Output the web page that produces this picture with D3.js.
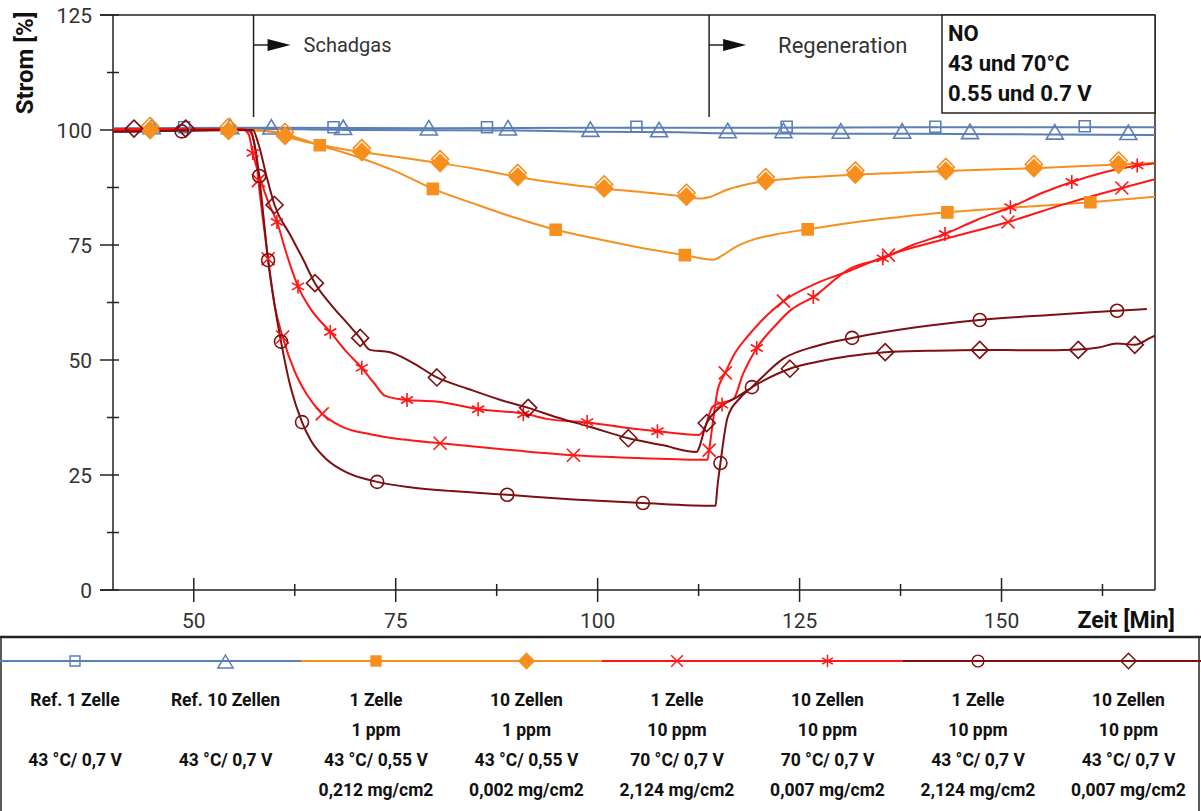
<!DOCTYPE html>
<html>
<head>
<meta charset="utf-8">
<script src="https://cdn.jsdelivr.net/npm/d3@7"></script>
<style>
  body { margin: 0; background: #fff; }
  svg { display: block; font-family: Roboto, "Liberation Sans", sans-serif; }
</style>
</head>
<body>
<div id="chart"></div>
<script>
// --- data: [Zeit in Min, Strom in %] ---
const ref1Line = [[40,100.4],[60,100.5],[80,100.4],[100,100.5],[120,100.5],[140,100.6],[169,100.6]];
const ref1Marks = [[48.8,100.6],[67.3,100.6],[86.3,100.6],[104.8,100.7],[123.4,100.7],[141.8,100.7],[160.3,100.8]];

const ref10Line = [[40,100.2],[55,100.3],[70,100],[90,99.9],[100,99.6],[110,99.5],[115,99.3],[130,99.2],[150,99.1],[169,98.9]];
const ref10Marks = [[44.8,100.2],[54.5,100.2],[59.6,100.1],[68.5,100],[79.1,99.9],[88.9,99.9],[99.1,99.6],[107.6,99.5],[116.1,99.3],
  [123,99.3],[130.1,99.2],[137.7,99.2],[146.1,99.1],[156.6,99],[165.7,98.9]];

const o1Line = [[40,100],[57,100],[59,99.8],[61,99.2],[63,98.2],[65.6,96.7],[70,94.3],[75,91],[79.6,87.2],[85,83.8],[90,80.8],
  [94.8,78.3],[100,76.3],[105,74.5],[110.8,72.8],[114.3,71.8],[115.5,72.8],[117,74.5],[119,76],[122,77.3],[126,78.4],
  [131.2,79.8],[137,81],[143.3,82.1],[152,83.2],[161,84.3],[169,85.5]];
const o1Marks = [[65.6,96.7],[79.6,87.2],[94.8,78.3],[110.8,72.8],[126,78.4],[143.3,82.1],[161,84.3]];

const o10Line = [[40,100],[55,100],[60,99.6],[61.3,98.7],[63,97.8],[65.9,96.7],[70.8,95.2],[75,94.2],[80.5,92.8],[85,91.5],
  [90.1,89.8],[95,88.5],[100.7,87.3],[106,86.4],[110.6,85.6],[112.7,85.1],[114,85.5],[116,87],[118,88],[120.8,88.9],
  [125,89.6],[131.9,90.3],[143.1,91.1],[154,91.7],[164.5,92.5],[169,92.8]];
const o10Marks = [[44.6,100],[54.3,99.8],[61.3,98.7],[70.8,95.2],[80.5,92.8],[90.1,89.8],[100.8,87.3],[111,85.5],
  [120.8,88.9],[131.9,90.3],[143.1,91.1],[154,91.7],[164.5,92.5]];

const r1Line = [[40,100.2],[56,100.2],[57,99.5],[57.6,96],[58,89],[58.6,80],[59.2,72],[60,62],[61,55],[62.5,47.5],[64,42.5],
  [65.9,38.3],[68,35.8],[72,33.8],[76,32.7],[80.5,31.9],[90,30.3],[97,29.3],[105,28.7],[113.6,28.3],[113.8,30.4],[114.3,37],
  [114.8,43],[115.8,47.2],[117,51.5],[118.5,55],[120,58],[123,62.8],[127,66.6],[131.2,69.4],[136,72.8],[143,76.3],
  [150.8,80],[158,84],[164.9,87.4],[169,89.3]];
const r1Marks = [[58,89],[59.2,72],[61,55],[65.9,38.3],[80.5,31.9],[97,29.3],[113.8,30.4],[115.8,47.2],[123,62.8],
  [136,72.8],[150.8,80],[164.9,87.4]];

const r10Line = [[40,100],[56,100.2],[56.8,99],[57.3,95],[58.3,89],[59.3,84],[60.3,80],[61.5,73],[62.9,66],[64.5,61],
  [66.9,56.1],[68.8,52],[70.8,48.3],[72.3,45],[73.7,42.2],[76.4,41.3],[80,41],[85.4,39.3],[91.3,38.2],[93.7,37.2],
  [99.3,36.3],[103,35.4],[107.4,34.5],[112.5,33.7],[113.2,35],[114.2,39.8],[115,40.5],[116.8,41.5],[118,47],[119.7,52.6],
  [122,57.5],[124,61],[126.7,63.7],[131.2,69.8],[135.3,72.1],[139,75],[143,77.4],[147,80.5],[151.1,83.2],[155,86.3],
  [158.7,88.7],[162.5,90.7],[166.8,92.3],[169,92.8]];
const r10Marks = [[57.3,95],[60.3,80],[62.9,66],[66.9,56.1],[70.8,48.3],[76.4,41.3],[85.2,39.3],[90.8,38.2],[98.7,36.5],
  [107.4,34.5],[115.4,40.3],[119.7,52.6],[126.7,63.7],[135.3,72.1],[143,77.4],[151.1,83.2],[158.7,88.7],[166.8,92.3]];

const d1Line = [[40,99.6],[57,100],[57.5,97],[58.1,90],[58.7,80],[59.2,71.7],[60,62],[60.8,54],[62,44],[63.4,36.5],
  [64.5,32.5],[66.5,28.3],[69,25.5],[72.7,23.5],[77,22.3],[82,21.5],[88.8,20.7],[97,19.7],[105.6,18.9],[114.6,18.3],
  [114.8,22],[115.2,27.6],[116.1,37.6],[117.5,41.5],[119.1,44.1],[123,50.3],[127,53],[131.5,54.8],[139,57],[147.3,58.7],
  [156,59.8],[164.3,60.7],[168,61.1]];
const d1Marks = [[48.5,99.7],[58.1,90],[59.2,71.7],[60.8,54],[63.4,36.5],[72.7,23.5],[88.8,20.7],[105.6,18.9],
  [115.2,27.6],[119.1,44.1],[131.5,54.8],[147.3,58.7],[164.3,60.7]];

const d10Line = [[40,99.6],[57.3,100],[58,97],[59,90],[60,83.7],[62,77],[63.5,72],[65,66.7],[67,62],[69,58],[70.6,54.8],
  [71.8,52.2],[74.3,51.7],[77,49.5],[80.1,46.2],[84,43.7],[88,41.3],[91.4,39.6],[95,37.5],[99,35.5],[103.8,33],[108,31.5],
  [112.2,30],[113.5,36.3],[115,39.5],[117.3,42],[120,45],[123.8,48.1],[127.2,49.6],[131,50.8],[135.6,51.7],[141,52],
  [147.3,52.2],[154,52.1],[159.5,52.3],[162,52.7],[164.3,53.6],[166.5,53.3],[168.4,54.8],[169,55.3]];
const d10Marks = [[42.6,100.3],[49,100.3],[60,83.7],[65,66.7],[70.6,54.8],[80.1,46.2],[91.4,39.6],[103.8,33],
  [113.5,36.3],[123.8,48.1],[135.6,51.7],[147.3,52.2],[159.5,52.2],[166.5,53.3]];

const yTicks = [0, 25, 50, 75, 100, 125];
const xTicks = [50, 75, 100, 125, 150];
const phases = [{t: 57.4, label: 'Schadgas'}, {t: 113.8, label: 'Regeneration'}];
const infoLines = ['NO', '43 und 70°C', '0.55 und 0.7 V'];

const legendNames = ['Ref. 1 Zelle', 'Ref. 10 Zellen', '1 Zelle', '10 Zellen', '1 Zelle', '10 Zellen', '1 Zelle', '10 Zellen'];
const legendPpm = ['', '', '1 ppm', '1 ppm', '10 ppm', '10 ppm', '10 ppm', '10 ppm'];
const legendCond = ['43 °C/ 0,7 V', '43 °C/ 0,7 V', '43 °C/ 0,55 V', '43 °C/ 0,55 V', '70 °C/ 0,7 V', '70 °C/ 0,7 V', '43 °C/ 0,7 V', '43 °C/ 0,7 V'];
const legendLoad = ['', '', '0,212 mg/cm2', '0,002 mg/cm2', '2,124 mg/cm2', '0,007 mg/cm2', '2,124 mg/cm2', '0,007 mg/cm2'];

const BLUE = '#5a7fb7', ORANGE = '#f78f1e', RED = '#ff1616', DARK = '#7c1012';

const series = [
  {line: ref1Line, marks: ref1Marks, color: BLUE, symbol: 'square', fill: false},
  {line: ref10Line, marks: ref10Marks, color: BLUE, symbol: 'triangle', fill: false},
  {line: o1Line, marks: o1Marks, color: ORANGE, symbol: 'square', fill: true},
  {line: o10Line, marks: o10Marks, color: ORANGE, symbol: 'diamond', fill: true},
  {line: r1Line, marks: r1Marks, color: RED, symbol: 'cross', fill: false},
  {line: r10Line, marks: r10Marks, color: RED, symbol: 'star', fill: false},
  {line: d1Line, marks: d1Marks, color: DARK, symbol: 'circle', fill: false},
  {line: d10Line, marks: d10Marks, color: DARK, symbol: 'diamond', fill: false}
];

// --- layout ---
const W = 1201, H = 811;
const pLeft = 113, pRight = 1155, pTop = 15, pBottom = 590;

const x = d3.scaleLinear().domain([40, 169]).range([pLeft, pRight]);
const y = d3.scaleLinear().domain([0, 125]).range([pBottom, pTop]);

const svg = d3.select('#chart').append('svg')
  .attr('width', W)
  .attr('height', H);

// marker shapes, size in px
function markPath(type) {
  switch (type) {
    case 'square': return 'M-5.5,-5.5H5.5V5.5H-5.5Z';
    case 'triangle': return 'M0,-10L8.5,4.5H-8.5Z';
    case 'diamond': return 'M0,-8.5L8.5,0L0,8.5L-8.5,0Z';
    case 'cross': return 'M-6.5,-6.5L6.5,6.5M-6.5,6.5L6.5,-6.5';
    case 'star': return 'M0,-7V7M-6,-3.5L6,3.5M-6,3.5L6,-3.5';
    case 'circle': return d3.arc()({innerRadius: 0, outerRadius: 6.5, startAngle: 0, endAngle: 2 * Math.PI});
  }
}

// frame
const frame = svg.append('g').attr('stroke', '#222').attr('stroke-width', 1.5).attr('fill', 'none');
frame.append('line').attr('x1', 100).attr('x2', pRight).attr('y1', pTop).attr('y2', pTop);
frame.append('line').attr('x1', 100).attr('x2', pRight).attr('y1', pBottom).attr('y2', pBottom);
frame.append('line').attr('x1', pLeft).attr('x2', pLeft).attr('y1', pTop).attr('y2', pBottom);
frame.append('line').attr('x1', pRight).attr('x2', pRight).attr('y1', pTop).attr('y2', pBottom);

// y axis ticks
const yMinor = d3.range(12.5, 125, 25);
frame.selectAll('.ymaj').data(yTicks).join('line')
  .attr('x1', pLeft - 13).attr('x2', pLeft + 6)
  .attr('y1', d => y(d)).attr('y2', d => y(d));
frame.selectAll('.ymin').data(yMinor).join('line')
  .attr('x1', pLeft - 6).attr('x2', pLeft + 6)
  .attr('y1', d => y(d)).attr('y2', d => y(d));
svg.append('g').selectAll('text').data(yTicks).join('text')
  .attr('x', 92)
  .attr('y', d => y(d))
  .attr('dy', '0.36em')
  .attr('text-anchor', 'end')
  .attr('font-size', 21)
  .attr('fill', '#333')
  .text(d => d);

// x axis ticks
const xMinor = d3.range(62.5, 169, 25);
frame.selectAll('.xmaj').data(xTicks).join('line')
  .attr('x1', d => x(d)).attr('x2', d => x(d))
  .attr('y1', pBottom - 12).attr('y2', pBottom + 12);
frame.selectAll('.xmin').data(xMinor).join('line')
  .attr('x1', d => x(d)).attr('x2', d => x(d))
  .attr('y1', pBottom - 6).attr('y2', pBottom + 6);
svg.append('g').selectAll('text').data(xTicks).join('text')
  .attr('x', d => x(d))
  .attr('y', 620)
  .attr('dy', '0.36em')
  .attr('text-anchor', 'middle')
  .attr('font-size', 21)
  .attr('fill', '#333')
  .text(d => d);

svg.append('text')
  .attr('x', 1175).attr('y', 620).attr('dy', '0.36em')
  .attr('text-anchor', 'end')
  .attr('font-size', 23).attr('font-weight', 'bold').attr('fill', '#111')
  .text('Zeit [Min]');
svg.append('text')
  .attr('transform', 'translate(33,63) rotate(-90)')
  .attr('text-anchor', 'middle')
  .attr('font-size', 24).attr('font-weight', 'bold').attr('fill', '#111')
  .text('Strom [%]');

// phase markers
phases.forEach(p => {
  const px = x(p.t);
  svg.append('line').attr('x1', px).attr('x2', px).attr('y1', pTop).attr('y2', 117)
    .attr('stroke', '#222').attr('stroke-width', 1.5);
  svg.append('line').attr('x1', px).attr('x2', px + 16).attr('y1', 45).attr('y2', 45)
    .attr('stroke', '#222').attr('stroke-width', 1.5);
  svg.append('path').attr('d', `M${px + 14},39L${px + 37},45L${px + 14},51Z`).attr('fill', '#111');
  svg.append('text').attr('x', p.t < 100 ? px + 50 : px + 69).attr('y', 45).attr('dy', '0.36em')
    .attr('font-size', p.t < 100 ? 20 : 22).attr('fill', '#333')
    .text(p.label);
});

// info box
svg.append('rect').attr('x', 942).attr('y', pTop).attr('width', pRight - 942).attr('height', 98)
  .attr('fill', '#fff').attr('stroke', '#222').attr('stroke-width', 1.5);
svg.append('g').selectAll('text').data(infoLines).join('text')
  .attr('x', 948)
  .attr('y', (d, i) => 41 + i * 30)
  .attr('font-size', 22).attr('font-weight', 'bold').attr('fill', '#111')
  .text(d => d);

// curves
svg.append('clipPath').attr('id', 'plot-clip')
  .append('rect').attr('x', pLeft).attr('y', pTop).attr('width', pRight - pLeft).attr('height', pBottom - pTop);

const line = d3.line()
  .x(d => x(d[0]))
  .y(d => y(d[1]))
  .curve(d3.curveMonotoneX);

const plot = svg.append('g').attr('clip-path', 'url(#plot-clip)');
series.forEach(s => {
  plot.append('path')
    .attr('d', line(s.line))
    .attr('fill', 'none')
    .attr('stroke', s.color)
    .attr('stroke-width', 2);
});
series.forEach(s => {
  const g = plot.append('g').attr('stroke', s.color).attr('stroke-width', 1.6);
  s.marks.forEach(m => {
    g.append('path')
      .attr('transform', `translate(${x(m[0])},${y(m[1])})`)
      .attr('d', markPath(s.symbol))
      .attr('fill', s.fill ? s.color : 'none');
    if (s.symbol === 'diamond' && s.fill) {
      // the orange diamonds show a hollow outline sitting a little above the filled one
      g.append('path')
        .attr('transform', `translate(${x(m[0])},${y(m[1]) - 4})`)
        .attr('d', markPath('diamond'))
        .attr('fill', 'none');
    }
  });
});

// legend
const legTop = 637;
svg.append('line').attr('x1', 0).attr('x2', W).attr('y1', legTop).attr('y2', legTop)
  .attr('stroke', '#222').attr('stroke-width', 2.5);
svg.append('line').attr('x1', 1).attr('x2', 1).attr('y1', legTop).attr('y2', H)
  .attr('stroke', '#222').attr('stroke-width', 1.5);
svg.append('line').attr('x1', 1199).attr('x2', 1199).attr('y1', legTop).attr('y2', H)
  .attr('stroke', '#222').attr('stroke-width', 1.5);

const colW = 150.5;
const lg = svg.append('g');
series.forEach((s, i) => {
  if (i % 2 === 0) {
    lg.append('line').attr('x1', i * colW).attr('x2', (i + 2) * colW).attr('y1', 661).attr('y2', 661)
      .attr('stroke', s.color).attr('stroke-width', 2);
  }
});
series.forEach((s, i) => {
  const cx = 75 + i * colW;
  lg.append('path')
    .attr('transform', `translate(${cx},${s.symbol === 'triangle' ? 664 : 661}) scale(0.9)`)
    .attr('d', markPath(s.symbol))
    .attr('fill', s.fill ? s.color : 'none')
    .attr('stroke', s.color).attr('stroke-width', 1.6);
  const rows = [legendNames[i], legendPpm[i], legendCond[i], legendLoad[i]];
  rows.forEach((r, k) => {
    lg.append('text')
      .attr('x', cx).attr('y', 706 + k * 30)
      .attr('text-anchor', 'middle')
      .attr('font-size', 17.5).attr('font-weight', 'bold').attr('fill', '#111')
      .text(r);
  });
});
</script>
</body>
</html>
